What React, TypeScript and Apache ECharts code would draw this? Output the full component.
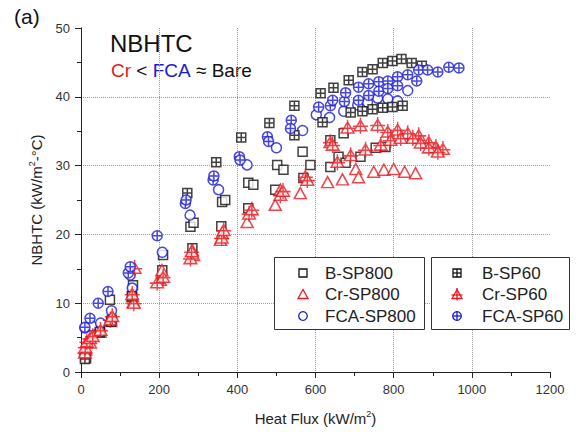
import React, { useEffect, useRef } from "react";
import * as echarts from "echarts";

const FONT = '"Liberation Sans", Arial, sans-serif';
const BLACK = "#111111";
const RED = "#e8171d";
const BLUE = "#1a1ad6";

const xTicks = { min: 0, max: 1200, interval: 200 };
const yTicks = { min: 0, max: 50, interval: 10 };

const seriesNames = ["B-SP800", "Cr-SP800", "FCA-SP800", "B-SP60", "Cr-SP60", "FCA-SP60"];

const bSp800: [number, number][] = [
  [13, 2.0], [49, 5.7], [79, 7.6], [74, 10.5], [131, 10.9], [133, 12.6], [208, 14.8], [210, 17.0],
  [285, 18.0], [280, 21.1], [288, 21.7], [359, 21.2], [361, 24.7], [369, 25.0], [428, 23.8],
  [428, 27.5], [441, 27.2], [497, 26.5], [502, 30.1], [518, 29.4], [569, 28.2], [567, 32.0],
  [587, 30.1], [638, 29.8], [638, 33.7], [659, 31.3], [672, 34.7], [677, 30.4], [715, 31.3],
  [754, 32.6], [779, 32.7],
];

const crSp800: [number, number][] = [
  [12, 3.3], [24, 4.3], [49, 5.9], [76, 7.4], [134, 10.2], [132, 11.0], [203, 13.4], [207, 14.8],
  [288, 17.0], [285, 17.7], [357, 19.2], [361, 20.2], [425, 21.8], [497, 24.3], [510, 26.5],
  [561, 26.0], [631, 27.6], [669, 28.0], [703, 29.5], [710, 28.3], [749, 29.1], [775, 29.4],
  [800, 29.5], [828, 29.1], [856, 28.9],
];

const fcaSp800: [number, number][] = [
  [10, 6.4], [28, 6.7], [50, 7.1], [78, 8.9], [131, 12.2], [126, 14.1], [208, 17.4], [279, 22.8],
  [352, 26.5], [425, 30.1], [500, 32.6], [567, 35.1], [602, 37.4], [636, 37.0], [672, 37.9],
  [708, 38.8], [733, 39.2], [759, 39.8], [785, 39.7], [810, 39.4], [836, 40.9],
];

const bSp60: [number, number][] = [
  [10, 1.9], [48, 5.8], [77, 7.3], [130, 11.0], [272, 26.0], [346, 30.5], [410, 34.1], [482, 36.2],
  [546, 38.7], [546, 34.4], [613, 40.5], [618, 36.3], [646, 41.3], [685, 42.4], [690, 37.7],
  [720, 43.6], [720, 37.9], [746, 44.0], [746, 38.2], [772, 44.9], [772, 38.4], [797, 45.2],
  [797, 38.5], [820, 45.5], [823, 38.7], [846, 44.9], [872, 44.5],
];

const crSp60: [number, number][] = [
  [10, 2.8], [11, 3.6], [15, 4.4], [23, 4.9], [30, 5.2], [50, 6.1], [75, 7.6], [80, 8.1],
  [135, 10.0], [131, 11.3], [137, 15.1], [195, 13.0], [210, 13.8], [280, 16.5], [283, 17.5],
  [360, 19.5], [365, 20.6], [430, 23.0], [437, 23.6], [510, 25.7], [517, 26.3], [574, 28.4],
  [579, 27.9], [638, 33.4], [644, 33.0], [682, 35.5], [715, 35.8], [759, 35.9], [785, 34.9],
  [810, 35.2], [836, 34.7], [864, 34.4], [890, 33.4], [908, 32.7], [926, 32.4], [656, 30.5],
  [690, 31.5], [728, 32.3], [767, 33.0], [792, 33.7], [818, 34.0], [849, 34.0], [869, 33.3],
  [890, 32.6], [913, 32.0],
];

const fcaSp60: [number, number][] = [
  [10, 6.5], [23, 7.8], [44, 10.0], [69, 11.7], [121, 14.4], [126, 15.3], [195, 19.8], [267, 24.5],
  [269, 25.0], [338, 27.9], [340, 28.5], [405, 31.3], [407, 30.8], [477, 34.2], [480, 33.5],
  [538, 36.6], [536, 35.4], [608, 38.5], [638, 38.7], [644, 39.5], [674, 39.3], [677, 40.6],
  [710, 41.4], [736, 41.9], [762, 42.2], [785, 42.3], [810, 42.9], [836, 43.2], [859, 42.3],
  [864, 43.9], [887, 43.9], [913, 43.6], [941, 44.3], [967, 44.2], [710, 39.5], [736, 40.2],
  [762, 40.8], [785, 41.2], [810, 41.6],
];

const SYM_SQ_PLUS = "path://M0,0H10V10H0ZM5,0V10M0,5H10";
const SYM_CIR_PLUS = "path://M0,5A5,5,0,1,0,10,5A5,5,0,1,0,0,5ZM5,0V10M0,5H10";
const SYM_TRI_PLUS = "path://M6,0V14M0.5,11.5L6,2L11.5,11.5ZM-0.5,7.5H12.5";

type Kind = "sq" | "tri" | "cir" | "sqp" | "trip" | "cirp";

function legendSymbol(kind: Kind, cx: number, cy: number, color: string): any[] {
  const st = { fill: "#ffffff", stroke: color, lineWidth: 1.3 };
  const ln = (x1: number, y1: number, x2: number, y2: number) => ({
    type: "line",
    shape: { x1, y1, x2, y2 },
    style: { stroke: color, lineWidth: 1.3 },
  });
  const h = 4;
  if (kind === "sq") return [{ type: "rect", shape: { x: cx - h, y: cy - h, width: 2 * h, height: 2 * h }, style: st }];
  if (kind === "sqp")
    return [
      { type: "rect", shape: { x: cx - h, y: cy - h, width: 2 * h, height: 2 * h }, style: st },
      ln(cx, cy - h, cx, cy + h),
      ln(cx - h, cy, cx + h, cy),
    ];
  if (kind === "cir") return [{ type: "circle", shape: { cx, cy, r: 4.3 }, style: st }];
  if (kind === "cirp")
    return [
      { type: "circle", shape: { cx, cy, r: 4.3 }, style: st },
      ln(cx, cy - 4.3, cx, cy + 4.3),
      ln(cx - 4.3, cy, cx + 4.3, cy),
    ];
  const tri = {
    type: "polygon",
    shape: { points: [[cx, cy - 5], [cx + 5, cy + 4], [cx - 5, cy + 4]] },
    style: st,
  };
  if (kind === "tri") return [tri];
  return [tri, ln(cx, cy - 6.5, cx, cy + 6), ln(cx - 5.5, cy + 0.5, cx + 5.5, cy + 0.5)];
}

export default function App() {
  const ref = useRef<HTMLDivElement>(null);
  useEffect(() => {
    if (!ref.current) return;
    const chart = echarts.init(ref.current, undefined, { renderer: "svg" });
    const mk = (name: string, data: [number, number][], symbol: string, size: any, color: string) => ({
      name,
      type: "scatter",
      data,
      symbol,
      symbolSize: size,
      itemStyle: { color: "#ffffff", borderColor: color, borderWidth: 1.5 },
      emphasis: { disabled: true },
    });
    const axisCommon = {
      axisLine: { show: true, lineStyle: { color: "#222", width: 1 } },
      axisTick: { show: true, length: 6, lineStyle: { color: "#222" } },
      minorTick: { show: true, splitNumber: 2, length: 4, lineStyle: { color: "#222" } },
      axisLabel: {
        fontSize: 13,
        color: "#333",
        fontFamily: FONT,
        margin: 11,
        formatter: (v: number) => String(v),
      },
      splitLine: {
        show: true,
        showMinLine: false,
        showMaxLine: false,
        lineStyle: { type: "dotted", color: "#9a9a9a", width: 1 },
      },
    };
    const nameRich = {
      a: { fontSize: 15, fontFamily: FONT, color: "#222", lineHeight: 18 },
      s: { fontSize: 9, fontFamily: FONT, color: "#222", lineHeight: 18, verticalAlign: "top" },
    };

    const legendBoxes = [
      { x: 274, w: 150, symX: 303, textX: 325, start: 0 },
      { x: 431, w: 138, symX: 457, textX: 482, start: 3 },
    ];
    const kinds: Kind[] = ["sq", "tri", "cir", "sqp", "trip", "cirp"];
    const colors = [BLACK, RED, BLUE, BLACK, RED, BLUE];
    const rowY = [273, 294.5, 316];
    const legendGraphics: any[] = [];
    legendBoxes.forEach((b) => {
      legendGraphics.push({
        type: "rect",
        shape: { x: b.x + 0.5, y: 257.5, width: b.w, height: 72 },
        style: { fill: "#ffffff", stroke: "#333", lineWidth: 1 },
        z: 100,
      });
      for (let i = 0; i < 3; i++) {
        const k = b.start + i;
        legendSymbol(kinds[k], b.symX, rowY[i], colors[k]).forEach((g) =>
          legendGraphics.push({ ...g, z: 101 })
        );
        legendGraphics.push({
          type: "text",
          x: b.textX,
          y: rowY[i],
          z: 101,
          style: {
            text: seriesNames[k],
            fontSize: 17,
            fontFamily: FONT,
            fill: "#222",
            verticalAlign: "middle",
          },
        });
      }
    });

    chart.setOption({
      animation: false,
      grid: { left: 81, right: 29, top: 28, bottom: 60, containLabel: false },
      xAxis: {
        type: "value",
        ...xTicks,
        ...axisCommon,
        name: "{a|Heat Flux (kW/m}{s|2}{a|)}",
        nameLocation: "middle",
        nameGap: 37,
        nameTextStyle: { rich: nameRich },
      },
      yAxis: {
        type: "value",
        ...yTicks,
        ...axisCommon,
        name: "{a|NBHTC (kW/m}{s|2}{a|-°C)}",
        nameLocation: "middle",
        nameGap: 36,
        nameTextStyle: { rich: nameRich },
      },
      graphic: [
        {
          type: "text",
          left: 14,
          top: 6,
          style: { text: "(a)", fontSize: 21, fontFamily: FONT, fill: "#111" },
        },
        {
          type: "text",
          x: 110,
          y: 43,
          style: { text: "NBHTC", fontSize: 24, fontFamily: FONT, fill: "#111", verticalAlign: "middle" },
        },
        {
          type: "text",
          x: 111,
          y: 70,
          style: {
            text: "{r|Cr} < {b|FCA} ≈ Bare",
            fontSize: 19,
            fontFamily: FONT,
            fill: "#111",
            verticalAlign: "middle",
            rich: {
              r: { fontSize: 19, fontFamily: FONT, fill: RED },
              b: { fontSize: 19, fontFamily: FONT, fill: BLUE },
            },
          },
        },
        ...legendGraphics,
      ],
      series: [
        mk(seriesNames[0], bSp800, "rect", 9, BLACK),
        mk(seriesNames[1], crSp800, "triangle", [12, 11], RED),
        mk(seriesNames[2], fcaSp800, "circle", 10, BLUE),
        mk(seriesNames[3], bSp60, SYM_SQ_PLUS, 9, BLACK),
        mk(seriesNames[4], crSp60, SYM_TRI_PLUS, [15, 16], RED),
        mk(seriesNames[5], fcaSp60, SYM_CIR_PLUS, 10, BLUE),
      ],
    });
    return () => chart.dispose();
  }, []);
  return (
    <div
      ref={ref}
      style={{ position: "fixed", left: 0, top: 0, width: 579, height: 432, background: "#fff" }}
    />
  );
}
